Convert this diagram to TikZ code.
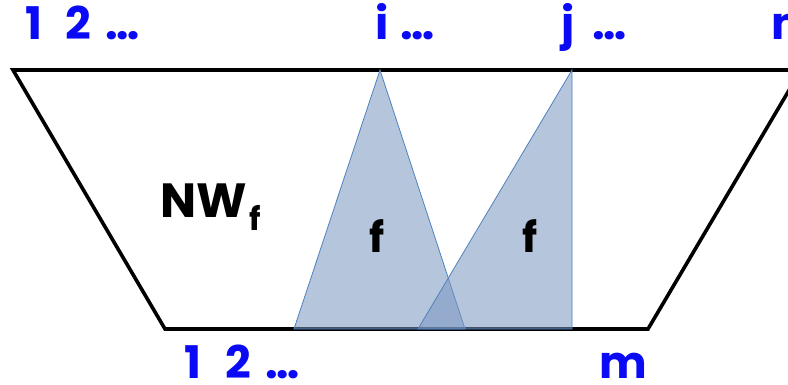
\documentclass[tikz,border=0pt]{standalone}
\usepackage{fontspec}
\setmainfont{Poppins}
\usetikzlibrary{positioning}

\definecolor{conefill}{RGB}{120,150,192}
\definecolor{coneline}{RGB}{79,129,189}
\definecolor{indexblue}{RGB}{10,10,245}

\begin{document}
\begin{tikzpicture}[
    x=1pt, y=-1pt,
    font=\bfseries,
    border/.style={draw=black, line width=3.6pt},
    cone/.style={draw=coneline, line width=0.8pt, fill=conefill, fill opacity=0.55, draw opacity=1},
    index/.style={text=indexblue, anchor=base, inner sep=0pt, font=\bfseries\fontsize{45}{45}\selectfont},
    tag/.style={text=black, anchor=base, inner sep=0pt, font=\bfseries\fontsize{42}{42}\selectfont}
]
    \clip (0,0) rectangle (788,385);

    % Corners
    \coordinate (tl) at (13,70);
    \coordinate (tr) at (801,70);
    \coordinate (br) at (648,329);
    \coordinate (bl) at (165,329);

    % Trapezoid
    \draw[border] (tl) -- (tr) -- (br) -- (bl) -- cycle;

    % Cones
    \coordinate (ci) at (380,70);
    \coordinate (cj) at (572,70);
    \filldraw[cone] (ci) -- (465,329) -- (294,329) -- cycle;
    \filldraw[cone] (cj) -- (572,329) -- (418,329) -- cycle;

    % Top indices
    \node[index] (top1) at (34,40) {1};
    \node[index] (top2) at (78,40) {2};
    \node[index] (topdots) at (123,40) {…};
    \node[index] (topi) at (382,40) {i};
    \node[index] (topidots) at (418,40) {…};
    \node[index] (topj) at (568,40) {j};
    \node[index] (topjdots) at (610,40) {…};
    \node[index] (topn) at (787,40) {n};

    % Bottom indices
    \node[index] (bot1) at (193,378) {1};
    \node[index] (bot2) at (238,378) {2};
    \node[index] (botdots) at (283,378) {…};
    \node[index] (botm) at (623,378) {m};

    % Labels
    \node[tag, anchor=base west, font=\bfseries\fontsize{48}{48}\selectfont] (nw) at (160,218) {NW};
    \node[tag, anchor=base west, font=\bfseries\fontsize{32}{32}\selectfont] (nwsub) at ([xshift=2pt,yshift=-13pt]nw.base east) {f};
    \node[tag] (fi) at (377,252) {f};
    \node[tag] (fj) at (530,252) {f};
\end{tikzpicture}
\end{document}
